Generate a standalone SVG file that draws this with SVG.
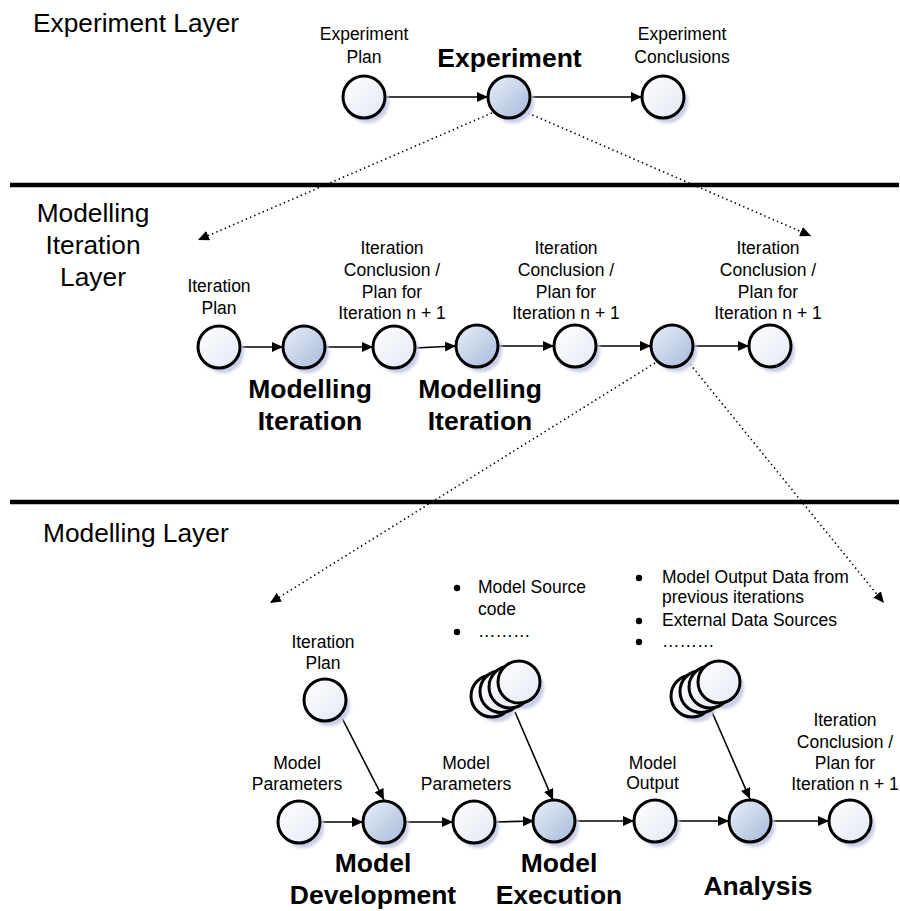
<svg xmlns="http://www.w3.org/2000/svg" width="900" height="911" viewBox="0 0 900 911">
<defs>
<style>
text{font-family:"Liberation Sans",Arial,sans-serif;fill:#000}
.lbl{font-size:17.5px;text-anchor:middle}
.lst{font-size:17.5px}
.big{font-size:26.5px;font-weight:bold;text-anchor:middle}
.ttl{font-size:26.3px}
.ttlc{font-size:26.3px;text-anchor:middle}
.c{stroke:#000;stroke-width:3}
.w{fill:url(#gw)}
.b{fill:url(#gb)}
.sh{fill:#c9cde6;filter:url(#blur)}
.sep{stroke:#000;stroke-width:4.5}
.ar{stroke:#000;stroke-width:1.6;fill:none;marker-end:url(#ah)}
.dt{stroke:#000;stroke-width:1.6;fill:none;stroke-dasharray:1.4 3.2;marker-end:url(#ah)}
</style>
<linearGradient id="gw" x1="0" y1="0" x2="1" y2="1">
<stop offset="0" stop-color="#ffffff"/><stop offset="1" stop-color="#e3e8f4"/>
</linearGradient>
<linearGradient id="gb" x1="0" y1="0" x2="1" y2="1">
<stop offset="0" stop-color="#eaeff8"/><stop offset="1" stop-color="#a5badb"/>
</linearGradient>
<filter id="blur" x="-30%" y="-30%" width="160%" height="160%"><feGaussianBlur stdDeviation="1.5"/></filter>
<marker id="ah" markerUnits="userSpaceOnUse" markerWidth="12" markerHeight="10" refX="11" refY="5" orient="auto">
<path d="M0,0 L11,5 L0,10 Z" fill="#000"/>
</marker>
</defs>

<g id="separators">
<line class="sep" x1="10" y1="185" x2="899" y2="185"/>
<line class="sep" x1="10" y1="502" x2="899" y2="502"/>
</g>

<g id="layer-titles">
<text class="ttl" x="33" y="32">Experiment Layer</text>
<text class="ttlc" x="93" y="222">Modelling</text>
<text class="ttlc" x="93" y="254">Iteration</text>
<text class="ttlc" x="93" y="286">Layer</text>
<text class="ttl" x="43" y="542">Modelling Layer</text>
</g>

<g id="connectors">
<line class="ar" x1="385" y1="97" x2="488" y2="97"/>
<line class="ar" x1="530" y1="97" x2="642" y2="97"/>
<line class="dt" x1="492" y1="113" x2="198" y2="240"/>
<line class="dt" x1="528" y1="113" x2="811" y2="236"/>

<line class="ar" x1="240" y1="347" x2="283" y2="347"/>
<line class="ar" x1="325" y1="347" x2="373" y2="347"/>
<line class="ar" x1="415" y1="348" x2="456" y2="346"/>
<line class="ar" x1="498" y1="346" x2="554" y2="346"/>
<line class="ar" x1="596" y1="346" x2="651" y2="346"/>
<line class="ar" x1="693" y1="346" x2="749" y2="346"/>
<line class="dt" x1="655" y1="363" x2="270" y2="603"/>
<line class="dt" x1="690" y1="364" x2="884" y2="603"/>

<line class="ar" x1="320" y1="822" x2="363" y2="822"/>
<line class="ar" x1="405" y1="822" x2="453" y2="822"/>
<line class="ar" x1="495" y1="822" x2="534" y2="821"/>
<line class="ar" x1="575" y1="821" x2="634" y2="821"/>
<line class="ar" x1="676" y1="821" x2="729" y2="821"/>
<line class="ar" x1="771" y1="821" x2="829" y2="821"/>
<line class="ar" x1="342" y1="718" x2="384" y2="800"/>
<line class="ar" x1="515" y1="712" x2="553" y2="800"/>
<line class="ar" x1="712" y1="712" x2="750" y2="799"/>
</g>

<g id="exp-plan"><circle class="sh" cx="368" cy="102" r="21"/><circle class="c w" cx="364" cy="97" r="21"/>
<text class="lbl" x="364" y="40">Experiment</text><text class="lbl" x="364" y="63">Plan</text></g>
<g id="experiment"><circle class="sh" cx="513" cy="102" r="21"/><circle class="c b" cx="509" cy="97" r="21"/>
<text class="big" x="509.5" y="67">Experiment</text></g>
<g id="exp-conclusions"><circle class="sh" cx="667" cy="102" r="21"/><circle class="c w" cx="663" cy="97" r="21"/>
<text class="lbl" x="682" y="40">Experiment</text><text class="lbl" x="682" y="63">Conclusions</text></g>

<g id="it-plan"><circle class="sh" cx="223" cy="352" r="21"/><circle class="c w" cx="219" cy="347" r="21"/>
<text class="lbl" x="219" y="292">Iteration</text><text class="lbl" x="219" y="314">Plan</text></g>
<g id="mod-it-1"><circle class="sh" cx="308" cy="352" r="21"/><circle class="c b" cx="304" cy="347" r="21"/>
<text class="big" x="310" y="398">Modelling</text><text class="big" x="310" y="430">Iteration</text></g>
<g id="it-concl-1"><circle class="sh" cx="398" cy="352" r="21"/><circle class="c w" cx="394" cy="347" r="21"/>
<text class="lbl" x="392" y="254">Iteration</text><text class="lbl" x="392" y="276">Conclusion /</text><text class="lbl" x="392" y="297.5">Plan for</text><text class="lbl" x="392" y="319">Iteration n + 1</text></g>
<g id="mod-it-2"><circle class="sh" cx="481" cy="351" r="21"/><circle class="c b" cx="477" cy="346" r="21"/>
<text class="big" x="480" y="398">Modelling</text><text class="big" x="480" y="430">Iteration</text></g>
<g id="it-concl-2"><circle class="sh" cx="579" cy="351" r="21"/><circle class="c w" cx="575" cy="346" r="21"/>
<text class="lbl" x="566" y="254">Iteration</text><text class="lbl" x="566" y="276">Conclusion /</text><text class="lbl" x="566" y="297.5">Plan for</text><text class="lbl" x="566" y="319">Iteration n + 1</text></g>
<g id="mod-it-3"><circle class="sh" cx="676" cy="351" r="21"/><circle class="c b" cx="672" cy="346" r="21"/></g>
<g id="it-concl-3"><circle class="sh" cx="774" cy="351" r="21"/><circle class="c w" cx="770" cy="346" r="21"/>
<text class="lbl" x="768" y="254">Iteration</text><text class="lbl" x="768" y="276">Conclusion /</text><text class="lbl" x="768" y="297.5">Plan for</text><text class="lbl" x="768" y="319">Iteration n + 1</text></g>

<g id="m-it-plan"><circle class="sh" cx="329" cy="705" r="21"/><circle class="c w" cx="325" cy="700" r="21"/>
<text class="lbl" x="323" y="647.5">Iteration</text><text class="lbl" x="323" y="669">Plan</text></g>
<g id="m-params-1"><circle class="sh" cx="303" cy="827" r="21"/><circle class="c w" cx="299" cy="822" r="21"/>
<text class="lbl" x="297" y="768.5">Model</text><text class="lbl" x="297" y="790">Parameters</text></g>
<g id="model-dev"><circle class="sh" cx="388" cy="827" r="21"/><circle class="c b" cx="384" cy="822" r="21"/>
<text class="big" x="373" y="872">Model</text><text class="big" x="373" y="904">Development</text></g>
<g id="m-params-2"><circle class="sh" cx="478" cy="827" r="21"/><circle class="c w" cx="474" cy="822" r="21"/>
<text class="lbl" x="466" y="768.5">Model</text><text class="lbl" x="466" y="790">Parameters</text></g>
<g id="source-stack">
<circle class="sh" cx="497" cy="701" r="21"/><circle class="sh" cx="523" cy="688" r="21"/>
<circle class="c w" cx="492" cy="696" r="21"/><circle class="c w" cx="501" cy="691.5" r="21"/><circle class="c w" cx="510" cy="687" r="21"/><circle class="c w" cx="519" cy="682" r="21"/>
<circle cx="457" cy="588" r="3.2"/><text class="lst" x="478" y="593">Model Source</text><text class="lst" x="478" y="614.5">code</text>
<circle cx="457" cy="632" r="3.2"/><text class="lst" x="478" y="637">………</text></g>
<g id="model-exec"><circle class="sh" cx="558" cy="826" r="21"/><circle class="c b" cx="554" cy="821" r="21"/>
<text class="big" x="559" y="872">Model</text><text class="big" x="559" y="904">Execution</text></g>
<g id="model-output"><circle class="sh" cx="659" cy="826" r="21"/><circle class="c w" cx="655" cy="821" r="21"/>
<text class="lbl" x="652.5" y="768.5">Model</text><text class="lbl" x="652.5" y="789">Output</text></g>
<g id="data-stack">
<circle class="sh" cx="697" cy="701" r="21"/><circle class="sh" cx="723" cy="688" r="21"/>
<circle class="c w" cx="692" cy="696" r="21"/><circle class="c w" cx="701" cy="691.5" r="21"/><circle class="c w" cx="710" cy="687" r="21"/><circle class="c w" cx="719" cy="682" r="21"/>
<circle cx="639" cy="578" r="3.2"/><text class="lst" x="662" y="583">Model Output Data from</text><text class="lst" x="662" y="603">previous iterations</text>
<circle cx="639" cy="621" r="3.2"/><text class="lst" x="662" y="626">External Data Sources</text>
<circle cx="639" cy="642" r="3.2"/><text class="lst" x="662" y="647">………</text></g>
<g id="analysis"><circle class="sh" cx="754" cy="826" r="21"/><circle class="c b" cx="750" cy="821" r="21"/>
<text class="big" x="758" y="895">Analysis</text></g>
<g id="m-it-concl"><circle class="sh" cx="854" cy="826" r="21"/><circle class="c w" cx="850" cy="821" r="21"/>
<text class="lbl" x="845" y="726">Iteration</text><text class="lbl" x="845" y="747.5">Conclusion /</text><text class="lbl" x="845" y="769">Plan for</text><text class="lbl" x="845" y="790">Iteration n + 1</text></g>
</svg>
